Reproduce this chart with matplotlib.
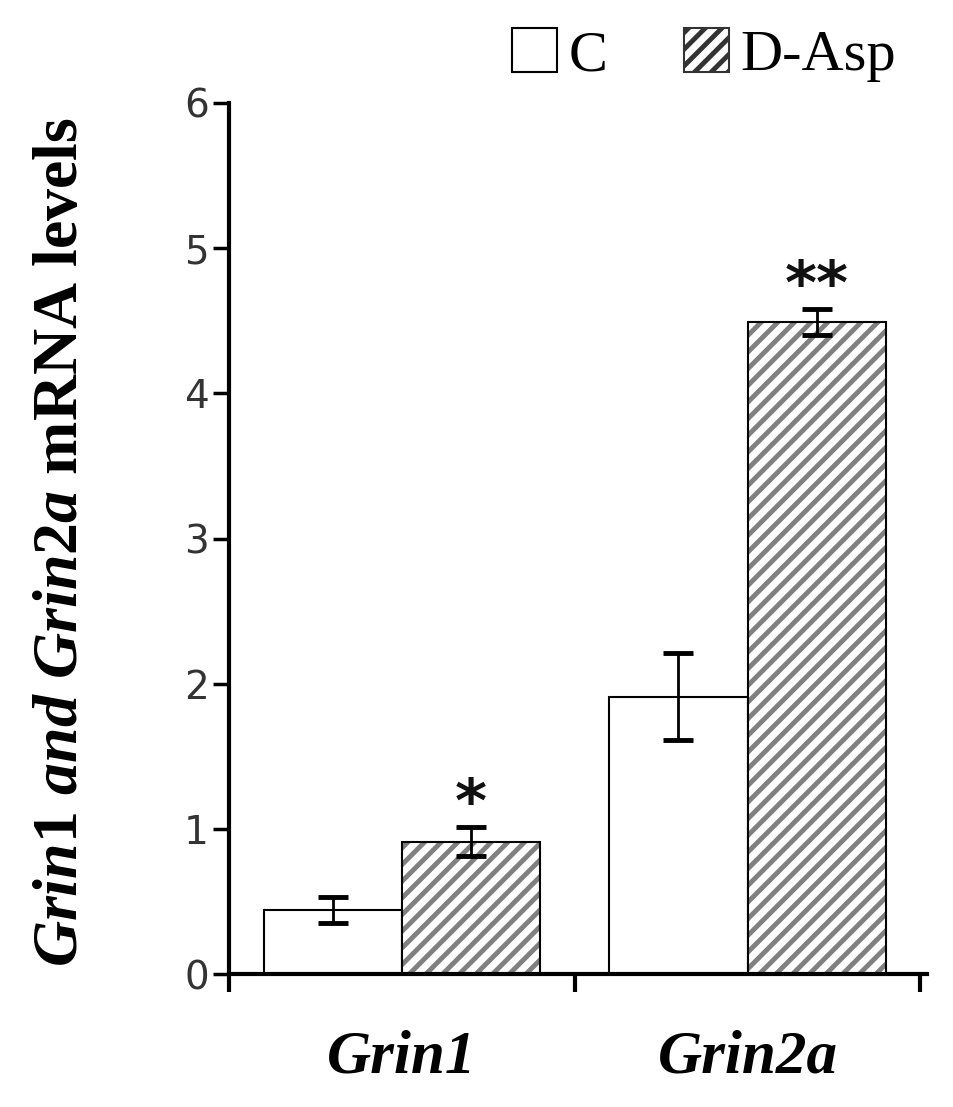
import matplotlib
matplotlib.use('Agg')
import matplotlib.pyplot as plt
from matplotlib.patches import Patch
import numpy as np

# values
genes = ['Grin1', 'Grin2a']
control = [0.44, 1.91]
control_err = [0.09, 0.30]
dasp = [0.91, 4.49]
dasp_err = [0.10, 0.09]
stars = ['*', '**']

plt.rcParams['font.family'] = 'Liberation Serif'
plt.rcParams['hatch.linewidth'] = 3.5
plt.rcParams['mathtext.fontset'] = 'custom'
plt.rcParams['mathtext.rm'] = 'Liberation Serif:bold'
plt.rcParams['mathtext.it'] = 'Liberation Serif:italic:bold'
plt.rcParams['mathtext.bf'] = 'Liberation Serif:bold'

fig = plt.figure(figsize=(9.54, 11.07), dpi=100)
ax = fig.add_axes([0.240, 0.1201, 0.732, 0.7869])

x = np.arange(len(genes))
w = 0.4

ax.bar(x - w/2, control, w, color='white', edgecolor='black', linewidth=1.5, zorder=2)
# hatched bars: gray hatch, then black outline on top
ax.bar(x + w/2, dasp, w, color='white', edgecolor='#808080', hatch='//', linewidth=0, zorder=2)
ax.bar(x + w/2, dasp, w, fill=False, edgecolor='black', linewidth=1.5, zorder=3)

ax.errorbar(x - w/2, control, yerr=control_err, fmt='none', ecolor='black',
            elinewidth=2, capsize=11, capthick=3.5, zorder=4)
ax.errorbar(x + w/2, dasp, yerr=dasp_err, fmt='none', ecolor='black',
            elinewidth=2, capsize=11, capthick=3.5, zorder=4)

for i in range(len(genes)):
    ax.text(x[i] + w/2, dasp[i] + dasp_err[i] + 0.15, stars[i], ha='center', va='center',
            fontsize=44, fontweight='bold', family='DejaVu Sans', color='#111111')

ax.set_xlim(-0.5, 1.52)
ax.set_ylim(0, 6)
ax.set_yticks([0, 1, 2, 3, 4, 5, 6])
ax.set_yticklabels(['0', '1', '2', '3', '4', '5', '6'], family='DejaVu Sans',
                   fontsize=28, color='#333333')
ax.set_xticks(x)
ax.set_xticklabels(genes, fontsize=44, fontweight='bold', fontstyle='italic')
ax.set_xticks([-0.5, 0.5, 1.5], minor=True)
ax.tick_params(axis='x', which='major', length=0, pad=40)
ax.tick_params(axis='x', which='minor', length=13, width=3, direction='out')
ax.tick_params(axis='y', length=11.5, width=2.5, direction='out', pad=3)

for s in ['top', 'right']:
    ax.spines[s].set_visible(False)
for s in ['left', 'bottom']:
    ax.spines[s].set_linewidth(3)

ax.set_ylabel(r'$\mathit{Grin1\ and\ Grin2a}$ mRNA levels', fontsize=46, fontweight='bold')
ax.yaxis.set_label_coords(-0.198, 0.496)

handles = [Patch(facecolor='white', edgecolor='black', linewidth=1.5),
           Patch(facecolor='white', edgecolor='#333333', hatch='//', linewidth=1.5)]
fig.legend(handles, ['C', 'D-Asp'], loc='center', bbox_to_anchor=(0.738, 0.950), ncol=2,
           frameon=False, fontsize=42, handlelength=0.78, handleheight=0.78,
           handletextpad=0.2, columnspacing=1.3, borderpad=0)

fig.savefig('out.png', dpi=100)
